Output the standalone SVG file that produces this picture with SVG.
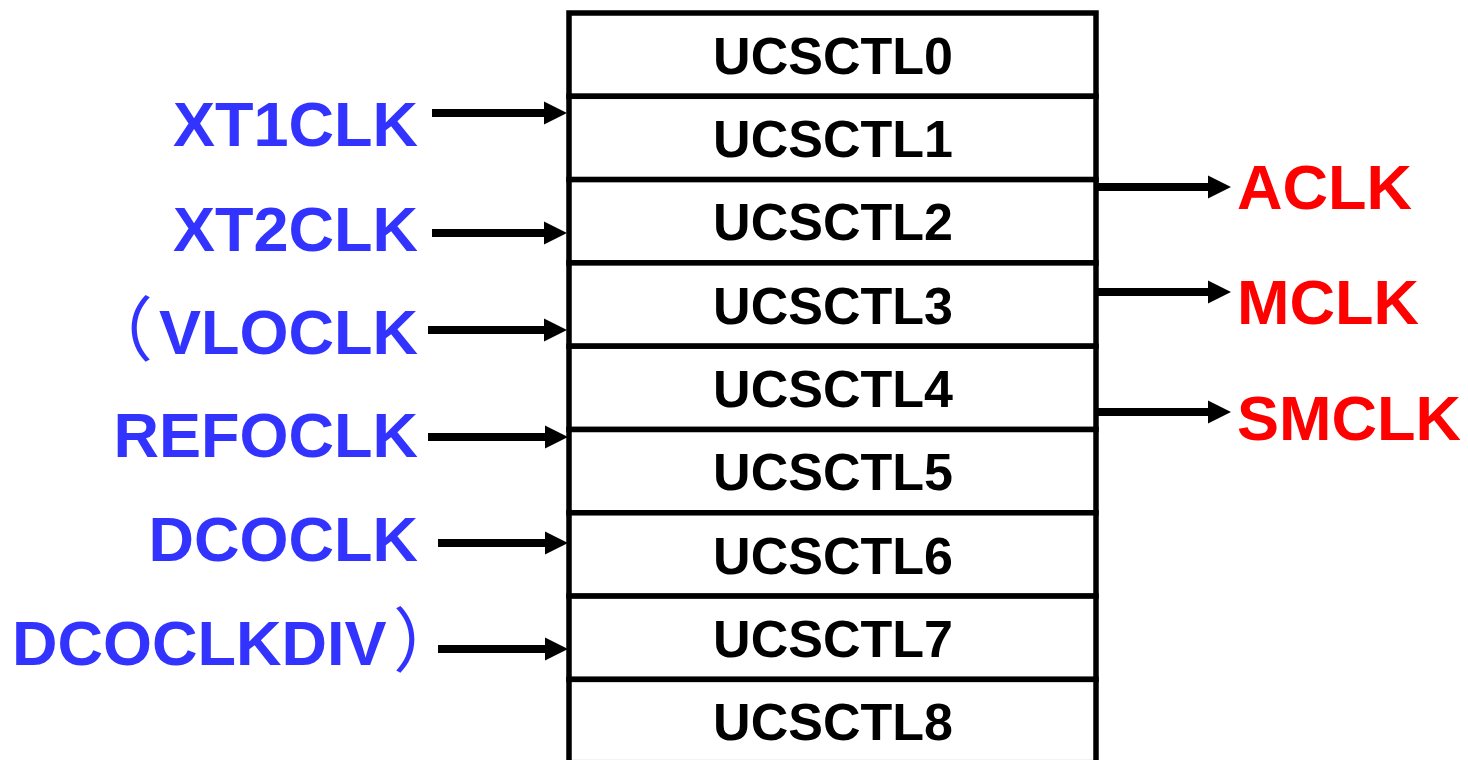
<svg xmlns="http://www.w3.org/2000/svg" width="1468" height="760" viewBox="0 0 1468 760">
  <style>
    .reg { fill: #ffffff; stroke: #000000; stroke-width: 5.5; }
    .regtxt { font-family: "Liberation Sans", Arial, sans-serif; font-weight: bold; font-size: 52px; fill: #000000; text-anchor: middle; }
    .src { font-family: "Liberation Sans", Arial, "Noto Sans CJK SC", sans-serif; font-weight: bold; font-size: 63px; fill: #3333ff; }
    .paren { font-family: "Noto Sans CJK SC", sans-serif; font-weight: normal; font-size: 70px; fill: #3333ff; }
    .out { font-family: "Liberation Sans", Arial, sans-serif; font-weight: bold; font-size: 63px; fill: #ff0000; }
    .wire { stroke: #000000; stroke-width: 8; fill: none; }
  </style>
  <defs>
    <marker id="head" markerUnits="userSpaceOnUse" markerWidth="24" markerHeight="24" viewBox="0 -12 24 24" refX="0" refY="0" orient="auto">
      <path d="M0,-11.5 L23,0 L0,11.5 Z" fill="#000000"/>
    </marker>
  </defs>
  <rect width="1468" height="760" fill="#ffffff"/>

  <!-- register stack -->
  <g id="registers">
    <g id="ucsctl0"><rect class="reg" x="569" y="13" width="527" height="83.3"/><text class="regtxt" x="833" y="74">UCSCTL0</text></g>
    <g id="ucsctl1"><rect class="reg" x="569" y="96.3" width="527" height="83.3"/><text class="regtxt" x="833" y="157">UCSCTL1</text></g>
    <g id="ucsctl2"><rect class="reg" x="569" y="179.6" width="527" height="83.3"/><text class="regtxt" x="833" y="240">UCSCTL2</text></g>
    <g id="ucsctl3"><rect class="reg" x="569" y="262.9" width="527" height="83.3"/><text class="regtxt" x="833" y="324">UCSCTL3</text></g>
    <g id="ucsctl4"><rect class="reg" x="569" y="346.2" width="527" height="83.3"/><text class="regtxt" x="833" y="407">UCSCTL4</text></g>
    <g id="ucsctl5"><rect class="reg" x="569" y="429.5" width="527" height="83.3"/><text class="regtxt" x="833" y="490">UCSCTL5</text></g>
    <g id="ucsctl6"><rect class="reg" x="569" y="512.8" width="527" height="83.3"/><text class="regtxt" x="833" y="574">UCSCTL6</text></g>
    <g id="ucsctl7"><rect class="reg" x="569" y="596.1" width="527" height="83.3"/><text class="regtxt" x="833" y="657">UCSCTL7</text></g>
    <g id="ucsctl8"><rect class="reg" x="569" y="679.4" width="527" height="83.3"/><text class="regtxt" x="833" y="740">UCSCTL8</text></g>
  </g>

  <!-- clock sources -->
  <g id="sources">
    <text id="xt1clk" class="src" x="418" y="146" text-anchor="end">XT1CLK</text>
    <text id="xt2clk" class="src" x="418" y="251" text-anchor="end">XT2CLK</text>
    <g id="vloclk">
      <text class="paren" x="83" y="355">（</text>
      <text class="src" x="418" y="354" text-anchor="end">VLOCLK</text>
    </g>
    <text id="refoclk" class="src" x="418" y="457" text-anchor="end">REFOCLK</text>
    <text id="dcoclk" class="src" x="418" y="561" text-anchor="end">DCOCLK</text>
    <g id="dcoclkdiv">
      <text class="src" x="12" y="665">DCOCLKDIV</text>
      <text class="paren" x="393" y="666">）</text>
    </g>
  </g>

  <!-- clock outputs -->
  <g id="outputs">
    <text id="aclk" class="out" x="1237" y="209">ACLK</text>
    <text id="mclk" class="out" x="1237" y="324">MCLK</text>
    <text id="smclk" class="out" x="1237" y="440">SMCLK</text>
  </g>

  <!-- connectors -->
  <g id="connectors">
    <line class="wire" x1="432" y1="113" x2="544" y2="113" marker-end="url(#head)"/>
    <line class="wire" x1="432" y1="233" x2="544" y2="233" marker-end="url(#head)"/>
    <line class="wire" x1="428" y1="330" x2="544" y2="330" marker-end="url(#head)"/>
    <line class="wire" x1="428" y1="437" x2="545" y2="437" marker-end="url(#head)"/>
    <line class="wire" x1="438" y1="543" x2="545" y2="543" marker-end="url(#head)"/>
    <line class="wire" x1="438" y1="649" x2="545" y2="649" marker-end="url(#head)"/>
    <line class="wire" x1="1098" y1="187" x2="1208" y2="187" marker-end="url(#head)"/>
    <line class="wire" x1="1098" y1="292" x2="1208" y2="292" marker-end="url(#head)"/>
    <line class="wire" x1="1098" y1="412" x2="1208" y2="412" marker-end="url(#head)"/>
  </g>
</svg>
